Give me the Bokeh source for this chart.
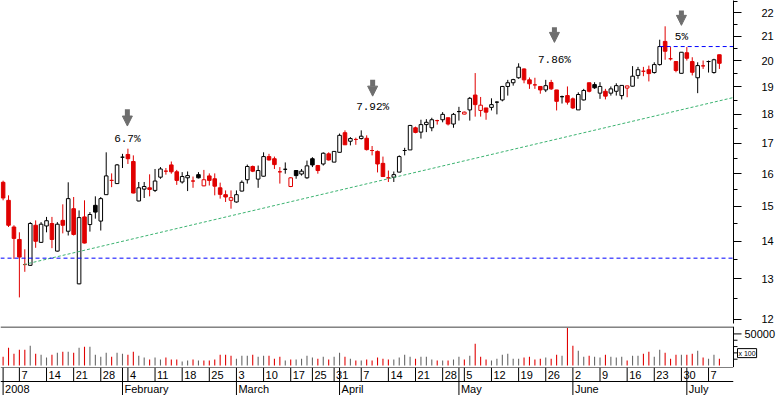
import pandas as pd
from bokeh.plotting import figure
from bokeh.layouts import column
from bokeh.models import (ColumnDataSource, Range1d, FixedTicker, NumeralTickFormatter,
                          Span, Arrow, NormalHead, Label)
from bokeh.core.properties import value
from bokeh.embed import file_html
from bokeh.resources import INLINE

# ------------------------------------------------------------------ data
holidays = ["2008-03-21", "2008-03-24", "2008-05-01"]
dates = [d for d in pd.bdate_range("2008-01-02", "2008-07-09")
         if d.strftime("%Y-%m-%d") not in holidays]

open_ = [15.73, 15.18, 14.40, 14.05, 13.37, 13.35, 14.45, 13.97, 14.43, 14.50,
         13.73, 14.59, 14.28, 14.93, 12.87, 14.69, 14.47, 15.03, 14.57, 15.35,
         15.79, 15.69, 16.53, 16.62, 16.39, 15.16, 15.52, 15.56, 15.48, 15.89,
         16.08, 16.28, 16.06, 15.74, 15.87, 15.77, 15.97, 15.62, 15.93, 15.84,
         15.56, 15.35, 15.18, 15.13, 15.46, 15.81, 16.23, 15.83, 15.92, 16.55,
         16.48, 16.06, 16.14, 15.60, 16.10, 15.99, 15.87, 16.48, 16.26, 16.31,
         16.64, 16.37, 16.69, 17.35, 17.06, 17.12, 17.15, 17.16, 16.75, 16.72,
         16.33, 15.87, 15.89, 16.05, 16.75, 16.77, 17.52, 17.37, 17.63, 17.52,
         17.77, 17.80, 17.87, 17.65, 18.09, 18.00, 18.15, 18.69, 18.13, 18.22,
         18.24, 18.43, 18.51, 19.01, 19.15, 19.34, 19.68, 19.26, 19.07, 19.01,
         18.88, 19.16, 18.88, 18.63, 18.67, 18.55, 18.15, 18.51, 19.15, 19.08,
         18.76, 18.83, 18.76, 18.83, 18.67, 18.95, 19.02, 19.43, 19.59, 19.65,
         19.54, 19.85, 20.78, 20.08, 19.97, 19.51, 20.32, 19.97, 19.34, 19.80,
         19.97, 19.54, 20.24]
high = [15.78, 15.33, 14.45, 14.25, 13.78, 14.54, 14.59, 14.54, 14.69, 14.69,
        14.54, 15.06, 15.73, 15.28, 14.88, 15.18, 14.83, 15.30, 15.28, 16.69,
        16.01, 16.31, 16.64, 16.81, 16.59, 15.74, 15.74, 15.98, 16.15, 16.21,
        16.18, 16.39, 16.12, 16.05, 16.07, 15.91, 16.05, 16.12, 16.01, 16.01,
        15.72, 15.48, 15.48, 15.48, 15.79, 16.29, 16.26, 16.26, 16.69, 16.64,
        16.55, 16.21, 16.36, 15.89, 16.10, 16.15, 16.42, 16.53, 16.28, 16.69,
        16.69, 16.73, 17.32, 17.43, 17.20, 17.18, 17.43, 17.26, 16.90, 16.75,
        16.55, 16.10, 16.07, 16.59, 16.84, 17.62, 17.56, 17.80, 17.82, 17.87,
        17.80, 18.07, 17.87, 18.04, 18.26, 18.09, 18.62, 19.52, 18.62, 18.22,
        18.57, 18.46, 19.03, 19.26, 19.30, 19.90, 19.70, 19.35, 19.34, 19.01,
        19.26, 19.26, 18.88, 18.67, 19.01, 18.60, 18.79, 18.92, 19.15, 19.17,
        19.17, 18.92, 19.01, 19.13, 19.05, 19.04, 19.79, 19.76, 19.76, 19.81,
        19.94, 20.85, 21.41, 20.55, 19.97, 20.34, 20.55, 20.14, 19.94, 20.01,
        20.01, 20.08, 20.24]
low = [15.18, 14.40, 13.52, 12.53, 13.18, 13.34, 13.82, 13.96, 14.25, 13.81,
       13.72, 14.22, 14.16, 14.16, 12.86, 13.94, 14.27, 14.64, 14.30, 15.34,
       15.58, 15.68, 16.18, 16.31, 15.39, 15.15, 15.25, 15.30, 15.43, 15.84,
       15.97, 16.00, 15.65, 15.69, 15.46, 15.56, 15.85, 15.61, 15.63, 15.33,
       15.23, 15.13, 14.93, 15.11, 15.45, 15.69, 16.05, 15.56, 15.91, 16.42,
       16.15, 15.69, 16.00, 15.58, 15.84, 15.94, 15.84, 16.21, 16.00, 16.26,
       16.42, 16.37, 16.69, 16.94, 16.92, 16.94, 17.12, 16.75, 16.59, 16.04,
       15.90, 15.74, 15.74, 16.05, 16.59, 16.77, 17.33, 17.15, 17.37, 17.40,
       17.63, 17.71, 17.60, 17.52, 17.77, 17.99, 17.77, 17.91, 17.91, 17.80,
       18.13, 17.99, 18.46, 18.67, 19.04, 19.30, 19.13, 18.92, 18.92, 18.74,
       18.80, 18.88, 18.13, 18.38, 18.34, 18.18, 18.15, 18.49, 18.79, 18.92,
       18.55, 18.53, 18.67, 18.67, 18.53, 18.61, 19.01, 19.30, 19.40, 19.20,
       19.50, 19.81, 20.04, 20.01, 19.55, 19.51, 20.01, 19.43, 18.76, 19.68,
       19.54, 19.50, 19.68]
close = [15.25, 14.45, 14.08, 13.57, 13.37, 14.50, 14.00, 14.48, 14.58, 14.05,
         14.48, 14.45, 15.23, 14.19, 14.67, 13.95, 14.76, 14.83, 15.23, 15.93,
         15.79, 16.28, 16.53, 16.48, 15.40, 15.56, 15.60, 15.51, 15.77, 16.15,
         16.08, 16.06, 15.79, 15.91, 15.94, 15.77, 15.87, 15.81, 15.79, 15.61,
         15.36, 15.28, 15.26, 15.35, 15.73, 16.23, 16.08, 16.10, 16.55, 16.44,
         16.29, 16.06, 16.14, 15.87, 15.94, 16.08, 16.25, 16.28, 16.10, 16.66,
         16.44, 16.72, 17.26, 16.94, 17.15, 17.12, 17.23, 16.78, 16.75, 16.31,
         15.91, 15.87, 15.97, 16.55, 16.75, 17.60, 17.36, 17.63, 17.71, 17.80,
         17.77, 17.99, 17.65, 17.99, 18.09, 18.07, 18.57, 18.34, 18.32, 18.07,
         18.34, 18.43, 19.01, 19.15, 19.27, 19.75, 19.26, 19.11, 19.07, 18.88,
         19.04, 18.92, 18.46, 18.63, 18.43, 18.22, 18.71, 18.86, 18.83, 18.96,
         19.01, 18.65, 18.92, 19.04, 19.05, 19.03, 19.40, 19.65, 19.59, 19.50,
         19.85, 20.57, 20.38, 20.08, 19.62, 20.34, 20.10, 19.55, 19.81, 19.80,
         19.97, 20.04, 19.90]
volume = [14000, 28100, 18750, 25000, 25000, 31250, 18750, 17200, 12500, 17200,
          20300, 21900, 21900, 20300, 28100, 29700, 29700, 17200, 14000, 20300,
          14000, 20300, 18750, 17200, 21900, 15600, 12500, 9400, 12500, 9400,
          12500, 9400, 9400, 6250, 7800, 9400, 7800, 7800, 7800, 9400,
          17200, 17200, 15600, 10900, 15600, 15600, 17200, 14000, 15600, 15600,
          10900, 14000, 7800, 9400, 9400, 10900, 15600, 12500, 10900, 14000,
          9400, 14000, 20300, 14000, 10900, 7800, 7800, 9400, 7800, 12500,
          10900, 9400, 9400, 12500, 17200, 14000, 10900, 14000, 14000, 9400,
          7800, 7800, 7800, 9400, 14000, 9400, 15600, 34400, 14000, 9400,
          7800, 10900, 17200, 18750, 10900, 10900, 12500, 14000, 9400, 10900,
          12500, 10900, 17200, 15600, 59400, 31250, 23400, 14000, 15600, 14000,
          12500, 17200, 14000, 12500, 14000, 7800, 15600, 15600, 18750, 21900,
          14000, 25000, 20300, 10900, 17200, 17200, 17200, 18750, 23400, 12500,
          10900, 17200, 10900]
prev_close_start = 15.90

support_level = 13.54
resistance_level = 20.57
resistance_from = 121
trend_x = [3.8, 134.6]
trend_y = [13.37, 18.60]

arrow_x = [22.9, 68.1, 101.6, 125.0]
arrow_top = [18.17, 19.26, 21.37, 22.09]
arrow_tip = [17.58, 18.65, 20.74, 21.45]
note_y = [17.15, 18.24, 20.05, 20.98]
note_text = ["6.7%", "7.92%", "7.86%", "5%"]

price_ticks = [12, 13, 14, 15, 16, 17, 18, 19, 20, 21, 22]
price_minor = [12.5, 13.5, 14.5, 15.5, 16.5, 17.5, 18.5, 19.5, 20.5, 21.5, 22.5]
vol_ticks = [50000]
vol_tick_labels = ["50000"]
vol_minor = [10000, 20000, 30000, 40000]
vol_unit_text = "x 100"

# ------------------------------------------------------------------ derived
RED = "#e00000"
GRAY = "#666666"
n = len(dates)
xs = list(range(n))
prev = [prev_close_start] + close[:-1]
up_day = [c >= pc for c, pc in zip(close, prev)]
edge = ["black" if u else RED for u in up_day]
fill = ["white" if c >= o else e for o, c, e in zip(open_, close, edge)]
top = [max(o, c) for o, c in zip(open_, close)]
bot = [min(o, c) for o, c in zip(open_, close)]
vcol = [GRAY if u else RED for u in up_day]

src = ColumnDataSource(dict(x=xs, o=open_, h=high, l=low, c=close, top=top, bot=bot,
                            edge=edge, fill=fill, vol=volume, vcol=vcol))

week_ticks = [i for i in range(1, n)
              if dates[i].isocalendar()[1] != dates[i - 1].isocalendar()[1]]
month_starts = [0] + [i for i in range(1, n) if dates[i].month != dates[i - 1].month]
day_labels = [str(dates[i].day) for i in week_ticks]
month_labels = ["2008" if dates[i].month == 1 else dates[i].strftime("%B")
                for i in month_starts]

# ------------------------------------------------------------------ layout
W = 779
RB = 46
FRAME_W = W - RB
X0, X1 = -0.48, 134.6
x_range = Range1d(X0, X1)
UNIT = (X1 - X0) / FRAME_W          # index units per screen pixel
FONT = "Liberation Sans"

def base(h, bottom=0, right=RB, xr=None, **kw):
    f = figure(width=W, height=h, x_range=xr if xr is not None else x_range,
               toolbar_location=None, output_backend="svg",
               min_border_left=0, min_border_right=right,
               min_border_top=0, min_border_bottom=bottom, **kw)
    f.outline_line_color = None
    f.background_fill_color = "white"
    f.border_fill_color = "white"
    f.grid.grid_line_color = None
    return f

def style_axis(ax, standoff):
    ax.major_tick_in = 0
    ax.major_tick_out = 8
    ax.minor_tick_in = 0
    ax.minor_tick_out = 4
    ax.major_label_standoff = standoff
    ax.major_label_text_font = FONT
    ax.major_label_text_font_size = "11px"
    ax.major_label_text_color = "black"
    ax.axis_line_color = "black"
    ax.major_tick_line_color = "black"
    ax.minor_tick_line_color = "black"
    ax.formatter = NumeralTickFormatter(format="0")

# ---- price panel (frame 323 px, 3 px border below for the "12" label)
p = base(326, bottom=3, y_range=Range1d(11.90, 22.53), y_axis_type="log",
         y_axis_location="right", x_axis_location=None)
style_axis(p.yaxis[0], 20)
p.yaxis[0].ticker = FixedTicker(ticks=price_ticks, minor_ticks=price_minor)

p.segment(x0="x", y0="l", x1="x", y1="h", line_color="edge", line_width=1, source=src)
p.vbar(x="x", width=0.66, top="top", bottom="bot", fill_color="fill",
       line_color="edge", line_width=1, source=src)

p.add_layout(Span(location=support_level, dimension="width", line_color="#0000ff",
                  line_dash="4 3", line_width=1))
p.line(x=[resistance_from, X1], y=[resistance_level, resistance_level],
       line_color="#0000ff", line_dash="4 3", line_width=1)
p.line(x=trend_x, y=trend_y, line_color="#3cb371", line_dash="3 2", line_width=1)

asrc = ColumnDataSource(dict(x=arrow_x, y0=arrow_top, y1=arrow_tip))
p.add_layout(Arrow(end=NormalHead(size=10, fill_color="#6e6e6e", line_color="#6e6e6e",
                                  line_width=1),
                   x_start="x", y_start="y0", x_end="x", y_end="y1",
                   line_color="#6e6e6e", line_width=5, source=asrc))
p.text(x=arrow_x, y=note_y, text=note_text, text_align="center", text_baseline="middle",
       text_font=value("Liberation Mono"), text_font_size="11px", text_color="black")

# ---- volume panel: full-width frame, same index scale, axis drawn at X1
VOL_SEP = 60940
VOL_END = 61720
pv = base(41, right=0, xr=Range1d(X0, X0 + UNIT * W),
          y_range=Range1d(-3125, VOL_END), x_axis_location=None, y_axis_location=None)
try:
    pv.frame_align = False      # keep this panel's full-width frame
except AttributeError:
    pass
pv.vbar(x="x", width=0.2, top="vol", bottom=0, fill_color="vcol", line_color=None,
        source=src)
pv.segment(x0=X0, y0=VOL_SEP, x1=X1, y1=VOL_SEP, line_color="black", line_width=1)
pv.add_layout(Span(location=X1, dimension="height", line_color="black", line_width=1))
pv.segment(x0=[X1] * len(vol_ticks), y0=vol_ticks, x1=[X1 + 8 * UNIT] * len(vol_ticks),
           y1=vol_ticks, line_color="black", line_width=1)
pv.segment(x0=[X1] * len(vol_minor), y0=vol_minor, x1=[X1 + 4 * UNIT] * len(vol_minor),
           y1=vol_minor, line_color="black", line_width=1)
pv.text(x=[X1] * len(vol_ticks), y=vol_ticks, text=vol_tick_labels, x_offset=11,
        text_align="left", text_baseline="middle", text_font=value(FONT),
        text_font_size="11px", text_color="black")
pv.add_layout(Label(x=X1, y=12500, x_offset=4, text=vol_unit_text, text_font=FONT,
                    text_font_size="7px", text_color="black", text_baseline="bottom",
                    border_line_color="black", background_fill_color="white",
                    padding=1))

# ---- date strip
pdt = base(28, y_range=Range1d(0, 2), x_axis_location=None, y_axis_location=None)
pdt.add_layout(Span(location=2, dimension="width", line_color="black", line_width=1))
pdt.add_layout(Span(location=1, dimension="width", line_color="black", line_width=1))
day_lines = sorted(set(week_ticks) | set(month_starts))
pdt.segment(x0=day_lines, y0=1, x1=day_lines, y1=2, line_color="black", line_width=1)
pdt.segment(x0=month_starts, y0=0, x1=month_starts, y1=1, line_color="black", line_width=1)
pdt.text(x=week_ticks, y=1.5, text=day_labels, x_offset=2, text_align="left",
         text_baseline="middle", text_font=value(FONT), text_font_size="11px",
         text_color="black")
pdt.text(x=month_starts, y=0.5, text=month_labels, x_offset=2, text_align="left",
         text_baseline="middle", text_font=value(FONT), text_font_size="11px",
         text_color="black")

layout = column(p, pv, pdt, spacing=0)
open("out.html", "w").write(file_html(layout, INLINE))
